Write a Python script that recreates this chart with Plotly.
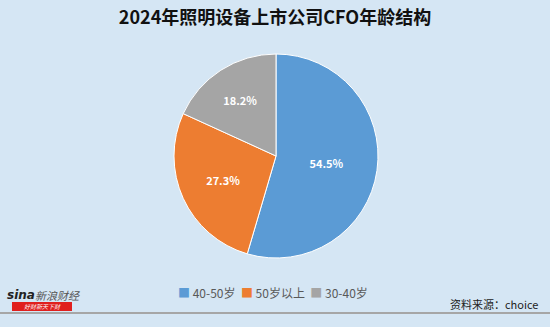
import plotly.graph_objects as go

labels = ["40-50岁", "50岁以上", "30-40岁"]
values = [6, 3, 2]
colors = ["#5B9BD5", "#ED7D31", "#A5A5A5"]
title = "2024年照明设备上市公司CFO年龄结构"
source = "资料来源：choice"

W, H = 550, 327
bg = "#D5E6F4"

fig = go.Figure()
fig.add_trace(go.Pie(
    labels=labels, values=values, sort=False, direction="clockwise", rotation=0,
    marker=dict(colors=colors, line=dict(color="white", width=1)),
    texttemplate="<b>%{percent:.1%}</b>", textposition="inside", insidetextorientation="horizontal",
    textfont=dict(color="white", size=11, family="Noto Sans CJK SC"),
    domain=dict(x=[173/W, 379/W], y=[1-258/H, 1-54/H]),
    hoverinfo="label+percent", showlegend=False,
))

legend_html = "&nbsp;&nbsp;".join(
    f"<span style='color:{c}'>■</span> {l}" for l, c in zip(labels, colors)
)

fig.update_layout(
    width=W, height=H, paper_bgcolor=bg, plot_bgcolor=bg,
    margin=dict(l=0, r=0, t=0, b=0),
    font=dict(family="Noto Sans CJK SC"),
    title=dict(text="<b>"+title+"</b>", x=0.5, xanchor="center", y=1-18/H, yanchor="middle",
               font=dict(size=18, color="#111111")),
    showlegend=False,
    shapes=[
        dict(type="line", xref="paper", yref="paper", x0=0, x1=1, y0=1-313/H, y1=1-313/H,
             line=dict(color="#A6A6A6", width=2)),
        dict(type="rect", xref="paper", yref="paper", x0=12/W, x1=72/W, y0=1-311/H, y1=1-302/H,
             fillcolor="#E0201E", line=dict(width=0)),
    ],
    annotations=[
        dict(text=legend_html, xref="paper", yref="paper", x=273/W, y=1-292/H, xanchor="center", yanchor="middle",
             showarrow=False, font=dict(size=12, color="#595959")),
        dict(text=source, xref="paper", yref="paper", x=540/W, y=1-304/H, xanchor="right", yanchor="middle",
             showarrow=False, font=dict(size=11, color="#222222")),
        dict(text="<b><i>sina</i></b>", xref="paper", yref="paper", x=5/W, y=1-295/H, xanchor="left", yanchor="middle",
             showarrow=False, font=dict(size=12, color="#222222", family="DejaVu Sans")),
        dict(text="<i>新浪财经</i>", xref="paper", yref="paper", x=33/W, y=1-295/H, xanchor="left", yanchor="middle",
             showarrow=False, font=dict(size=11, color="#555555")),
        dict(text="<i>好财新天下财</i>", xref="paper", yref="paper", x=42/W, y=1-306.5/H, xanchor="center", yanchor="middle",
             showarrow=False, font=dict(size=6, color="white")),
    ],
)
fig.write_html("out.html")
